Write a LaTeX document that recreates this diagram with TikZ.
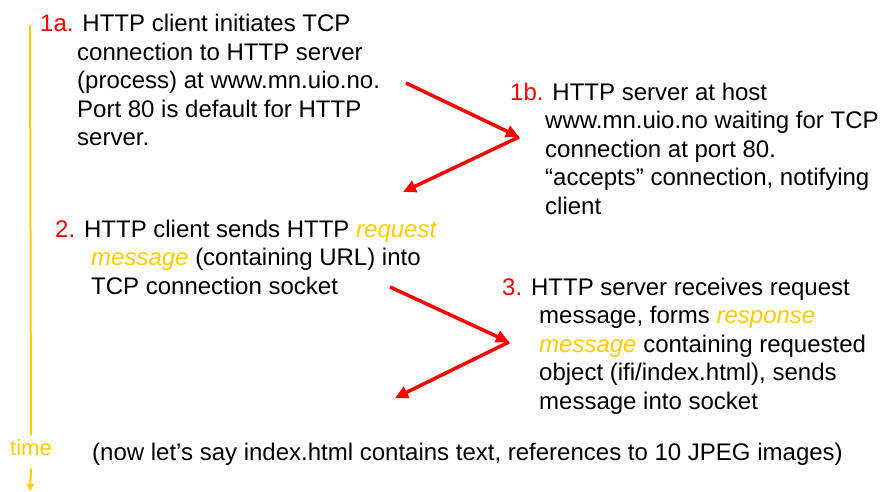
\documentclass[tikz,border=0pt]{standalone}
\usepackage{fontspec}
\setmainfont{Liberation Sans}
\usetikzlibrary{arrows.meta}
\definecolor{hiyellow}{RGB}{255,204,0}
\definecolor{stepred}{RGB}{255,0,0}
\newcommand{\steplabel}[1]{\textcolor{stepred}{#1}}
\newcommand{\hi}[1]{\textcolor{hiyellow}{\itshape #1}}
\begin{document}
\begin{tikzpicture}[x=1pt,y=-1pt,
  para/.style={anchor=base west,inner sep=0pt,align=left,
    font=\fontsize{24}{28.5}\selectfont},
  flow/.style={stepred,line width=3.5pt,-{Triangle[length=13pt,width=12pt]}},
  timeline/.style={hiyellow,line width=2pt}]
\useasboundingbox (0,0) rectangle (880,492);

% step descriptions (each node sits on the baseline of its last line)
\node[para] (s1a) at (77,146) {\hspace*{-37pt}\steplabel{1a.} HTTP client initiates TCP\\
connection to HTTP server\\
(process) at www.mn.uio.no.\\
Port 80 is default for HTTP\\
server.};

\node[para] (s1b) at (545,214) {\hspace*{-35pt}\steplabel{1b.} HTTP server at host\\
www.mn.uio.no waiting for TCP\\
connection at port 80.\\
“accepts” connection, notifying\\
client};

\node[para] (s2) at (91,294) {\hspace*{-36pt}\steplabel{2.} HTTP client sends HTTP \hi{request}\\
\hi{message} (containing URL) into\\
TCP connection socket};

\node[para] (s3) at (539,409) {\hspace*{-37pt}\steplabel{3.} HTTP server receives request\\
message, forms \hi{response}\\
\hi{message} containing requested\\
object (ifi/index.html), sends\\
message into socket};

\node[para] (note) at (92,460) {(now let’s say index.html contains text, references to 10 JPEG images)};

% time axis
\coordinate (ttop) at (30,25);
\coordinate (tbot) at (30,491);
\node[anchor=center,inner xsep=0pt,inner ysep=4pt,text=hiyellow,
  font=\fontsize{22}{26}\selectfont] (time) at (31,448) {time};
\draw[timeline] (ttop) -- (time.north);
\draw[timeline,-{Triangle[length=7pt,width=7pt]}] ([yshift=-8pt]time.south) -- (tbot);

% message arrows between client and server
\coordinate (c1) at (406,83);
\coordinate (v1) at (519,137);
\coordinate (c2) at (403,192);
\coordinate (c3) at (390,287);
\coordinate (v3) at (509,342);
\coordinate (c4) at (395,398);
\draw[flow] (c1) -- (v1);
\draw[flow] (v1) -- (c2);
\draw[flow] (c3) -- (v3);
\draw[flow] (v3) -- (c4);
\end{tikzpicture}
\end{document}
